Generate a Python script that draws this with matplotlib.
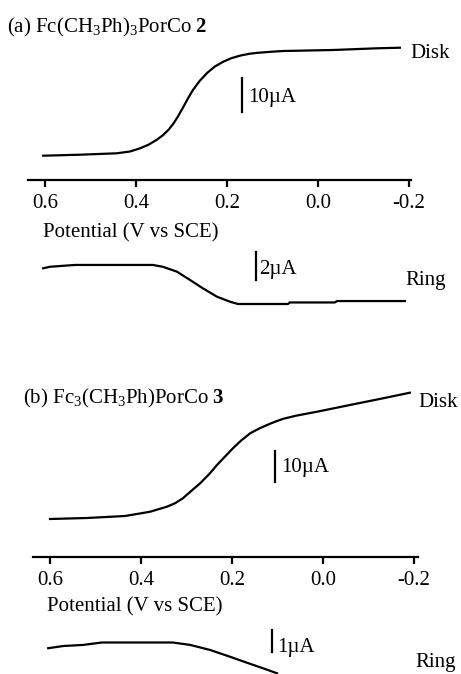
import matplotlib
matplotlib.use("Agg")
import matplotlib.pyplot as plt

plt.rcParams['font.family'] = ['Liberation Serif', 'DejaVu Serif']
plt.rcParams['mathtext.fontset'] = 'custom'
plt.rcParams['mathtext.rm'] = 'Liberation Serif'
plt.rcParams['mathtext.it'] = 'Liberation Serif:italic'
plt.rcParams['mathtext.bf'] = 'Liberation Serif:bold'
plt.rcParams['mathtext.default'] = 'regular'

# ---------------- data (V vs SCE, current in µA, relative baseline) ----------------
potential_disk_a = [0.604, 0.523, 0.442, 0.413, 0.391, 0.373, 0.355, 0.341, 0.328,
                    0.318, 0.308, 0.297, 0.286, 0.275, 0.260, 0.244, 0.227, 0.209,
                    0.190, 0.171, 0.150, 0.134, 0.100, 0.077, -0.033, -0.130, -0.180]
current_disk_a = [0.0, 0.29, 0.71, 1.24, 2.18, 3.2, 4.62, 6.0, 7.7,
                  9.4, 11.5, 14.1, 16.8, 19.3, 22.0, 24.3, 26.2, 27.6,
                  28.7, 29.44, 30.0, 30.24, 30.6, 30.79, 31.09, 31.59, 31.76]

potential_ring_a = [0.604, 0.589, 0.534, 0.363, 0.341, 0.310, 0.281, 0.253, 0.222,
                    0.193, 0.176, 0.066, 0.062, -0.037, -0.042, -0.191]
current_ring_a = [2.55, 2.66, 2.79, 2.79, 2.66, 2.31, 1.71, 1.12, 0.52,
                  0.16, 0.0, 0.0, 0.11, 0.11, 0.21, 0.21]

potential_disk_b = [0.600, 0.519, 0.435, 0.396, 0.380, 0.343, 0.325, 0.308, 0.290,
                    0.270, 0.250, 0.233, 0.215, 0.198, 0.180, 0.160, 0.140, 0.123,
                    0.105, 0.088, 0.060, 0.035, 0.013, -0.059, -0.132, -0.191]
current_disk_b = [0.0, 0.32, 0.97, 1.94, 2.35, 3.97, 5.1, 6.68, 9.0,
                  11.52, 14.5, 17.42, 20.2, 22.81, 25.3, 27.65, 29.2, 30.32,
                  31.4, 32.3, 33.3, 34.0, 34.61, 36.77, 38.94, 40.74]

potential_ring_b = [0.604, 0.571, 0.527, 0.486, 0.330, 0.292, 0.248, 0.204, 0.167,
                    0.132, 0.101]
current_ring_b = [1.14, 1.24, 1.29, 1.40, 1.40, 1.29, 1.06, 0.75, 0.48,
                  0.23, 0.0]

tick_values = [0.6, 0.4, 0.2, 0.0, -0.2]
tick_labels = ["0.6", "0.4", "0.2", "0.0", "-0.2"]

title_a = r"(a) Fc(CH$_3$Ph)$_3$PorCo $\mathbf{2}$"
title_b = r"(b) Fc$_3$(CH$_3$Ph)PorCo $\mathbf{3}$"
xlabel = "Potential (V vs SCE)"

# ---------------- layout helpers (pixel geometry) ----------------
W, H = 461, 674
DPI = 100
fig = plt.figure(figsize=(W / DPI, H / DPI), dpi=DPI)
FS = 15
LW = 1.6
PX_PER_V = 455.0


def make_axes(x0, x1, ytop, ybot, p06, zero_px, px_per_unit):
    ax = fig.add_axes([x0 / W, 1 - ybot / H, (x1 - x0) / W, (ybot - ytop) / H])
    v_left = 0.6 + (p06 - x0) / PX_PER_V
    v_right = 0.6 - (x1 - p06) / PX_PER_V
    ax.set_xlim(v_left, v_right)
    ax.set_ylim((zero_px - ybot) / px_per_unit, (zero_px - ytop) / px_per_unit)
    ax.patch.set_visible(False)
    for s in ax.spines.values():
        s.set_visible(False)
    ax.set_xticks([])
    ax.set_yticks([])
    return ax


def add_xaxis(ax):
    ax.spines['bottom'].set_visible(True)
    ax.spines['bottom'].set_linewidth(LW)
    ax.set_xticks(tick_values)
    ax.set_xticklabels(tick_labels, fontsize=FS)
    ax.tick_params(axis='x', direction='out', length=5, width=LW, pad=5)


def ftext(x, y, s, **kw):
    fig.text(x / W, 1 - y / H, s, fontsize=FS, va='baseline', ha='left', **kw)


# ---------------- panel (a) ----------------
ax_da = make_axes(28, 411, 30, 180, 45, 155.7, 3.4)
add_xaxis(ax_da)
ax_da.plot(potential_disk_a, current_disk_a, color='black', lw=LW, clip_on=False)
ax_da.plot([0.167, 0.167], [12.85, 22.85], color='black', lw=LW, clip_on=False)

ax_ra = make_axes(28, 411, 245, 320, 45, 304, 14.0)
ax_ra.plot(potential_ring_a, current_ring_a, color='black', lw=LW, clip_on=False)
ax_ra.plot([0.136, 0.136], [1.71, 3.71], color='black', lw=LW, clip_on=False)

ftext(7, 32, title_a)
ftext(410, 58, "Disk")
ftext(248, 102, "10µA")
ftext(43, 237, xlabel)
ftext(259, 274, "2µA")
ftext(405, 285, "Ring")

# ---------------- panel (b) ----------------
ax_db = make_axes(33, 418, 380, 557, 50, 519, 3.1)
add_xaxis(ax_db)
ax_db.plot(potential_disk_b, current_disk_b, color='black', lw=LW, clip_on=False)
ax_db.plot([0.1055, 0.1055], [11.94, 21.94], color='black', lw=LW, clip_on=False)

ax_rb = make_axes(33, 418, 620, 674, 50, 673.3, 22.0)
ax_rb.plot(potential_ring_b, current_ring_b, color='black', lw=LW, clip_on=False)
ax_rb.plot([0.112, 0.112], [0.97, 1.97], color='black', lw=LW, clip_on=False)

ftext(23, 403, title_b)
ftext(418, 407, "Disk")
ftext(281, 472, "10µA")
ftext(47, 611, xlabel)
ftext(277, 652, "1µA")
ftext(415, 667, "Ring")

fig.savefig("out.png", dpi=DPI)
